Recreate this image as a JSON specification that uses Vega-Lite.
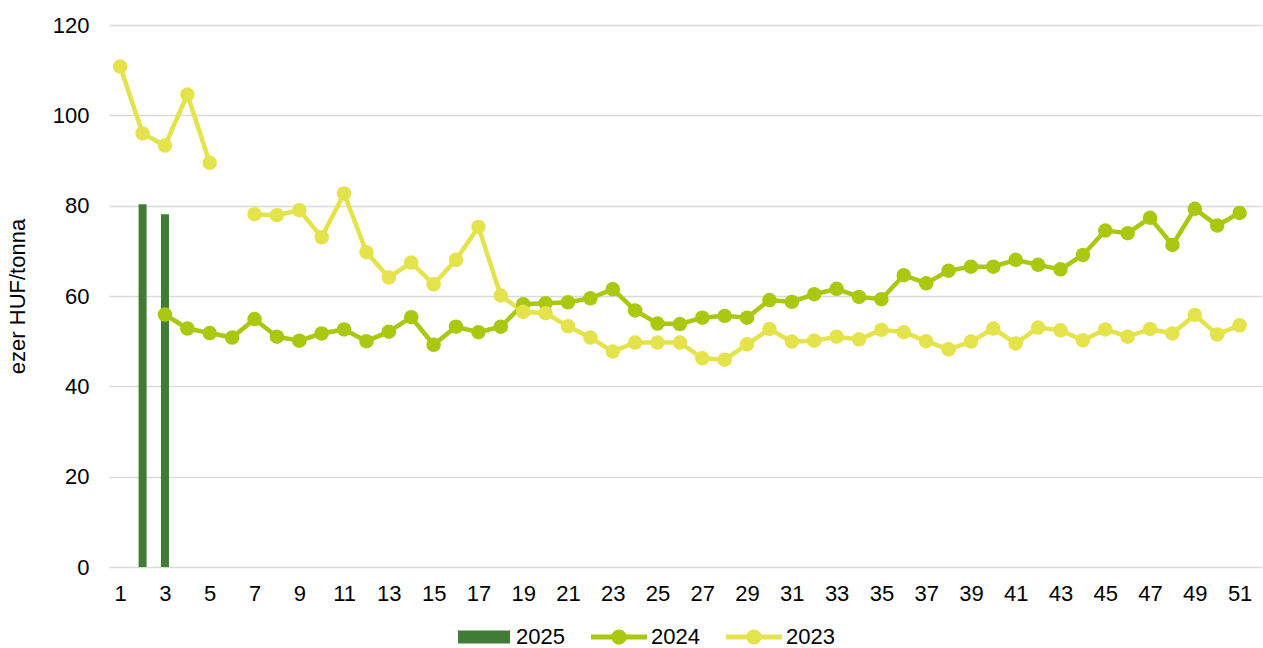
{
  "$schema": "https://vega.github.io/schema/vega-lite/v6.json",
  "width": 1153,
  "height": 542,
  "autosize": {"type": "none"},
  "padding": {"left": 109, "top": 25, "right": 1, "bottom": 81},
  "background": "white",
  "config": {
    "view": {"stroke": null},
    "font": "Liberation Sans",
    "axis": {"labelFont": "Liberation Sans", "titleFont": "Liberation Sans", "labelColor": "#000000", "titleColor": "#000000"},
    "legend": {"labelFont": "Liberation Sans"}
  },
  "data": {
    "values": [
      {"week": 2, "series": "2025", "value": 80.3},
      {"week": 3, "series": "2025", "value": 78.1},
      {"week": 3, "series": "2024", "value": 55.9},
      {"week": 4, "series": "2024", "value": 52.8},
      {"week": 5, "series": "2024", "value": 51.8},
      {"week": 6, "series": "2024", "value": 50.8},
      {"week": 7, "series": "2024", "value": 54.9},
      {"week": 8, "series": "2024", "value": 51.0},
      {"week": 9, "series": "2024", "value": 50.1},
      {"week": 10, "series": "2024", "value": 51.7},
      {"week": 11, "series": "2024", "value": 52.6},
      {"week": 12, "series": "2024", "value": 50.0},
      {"week": 13, "series": "2024", "value": 52.1},
      {"week": 14, "series": "2024", "value": 55.3},
      {"week": 15, "series": "2024", "value": 49.2},
      {"week": 16, "series": "2024", "value": 53.2},
      {"week": 17, "series": "2024", "value": 52.0},
      {"week": 18, "series": "2024", "value": 53.2},
      {"week": 19, "series": "2024", "value": 58.2},
      {"week": 20, "series": "2024", "value": 58.4},
      {"week": 21, "series": "2024", "value": 58.6},
      {"week": 22, "series": "2024", "value": 59.5},
      {"week": 23, "series": "2024", "value": 61.5},
      {"week": 24, "series": "2024", "value": 56.8},
      {"week": 25, "series": "2024", "value": 53.9},
      {"week": 26, "series": "2024", "value": 53.8},
      {"week": 27, "series": "2024", "value": 55.2},
      {"week": 28, "series": "2024", "value": 55.6},
      {"week": 29, "series": "2024", "value": 55.2},
      {"week": 30, "series": "2024", "value": 59.1},
      {"week": 31, "series": "2024", "value": 58.7},
      {"week": 32, "series": "2024", "value": 60.4},
      {"week": 33, "series": "2024", "value": 61.6},
      {"week": 34, "series": "2024", "value": 59.8},
      {"week": 35, "series": "2024", "value": 59.3},
      {"week": 36, "series": "2024", "value": 64.6},
      {"week": 37, "series": "2024", "value": 62.8},
      {"week": 38, "series": "2024", "value": 65.6},
      {"week": 39, "series": "2024", "value": 66.5},
      {"week": 40, "series": "2024", "value": 66.5},
      {"week": 41, "series": "2024", "value": 68.0},
      {"week": 42, "series": "2024", "value": 66.9},
      {"week": 43, "series": "2024", "value": 65.9},
      {"week": 44, "series": "2024", "value": 69.1},
      {"week": 45, "series": "2024", "value": 74.5},
      {"week": 46, "series": "2024", "value": 73.9},
      {"week": 47, "series": "2024", "value": 77.3},
      {"week": 48, "series": "2024", "value": 71.3},
      {"week": 49, "series": "2024", "value": 79.3},
      {"week": 50, "series": "2024", "value": 75.6},
      {"week": 51, "series": "2024", "value": 78.4},
      {"week": 1, "series": "2023", "value": 110.8},
      {"week": 2, "series": "2023", "value": 96.0},
      {"week": 3, "series": "2023", "value": 93.3},
      {"week": 4, "series": "2023", "value": 104.6},
      {"week": 5, "series": "2023", "value": 89.5},
      {"week": 6, "series": "2023", "value": null},
      {"week": 7, "series": "2023", "value": 78.1},
      {"week": 8, "series": "2023", "value": 77.9},
      {"week": 9, "series": "2023", "value": 79.0},
      {"week": 10, "series": "2023", "value": 73.0},
      {"week": 11, "series": "2023", "value": 82.7},
      {"week": 12, "series": "2023", "value": 69.7},
      {"week": 13, "series": "2023", "value": 64.1},
      {"week": 14, "series": "2023", "value": 67.4},
      {"week": 15, "series": "2023", "value": 62.6},
      {"week": 16, "series": "2023", "value": 68.0},
      {"week": 17, "series": "2023", "value": 75.3},
      {"week": 18, "series": "2023", "value": 60.1},
      {"week": 19, "series": "2023", "value": 56.5},
      {"week": 20, "series": "2023", "value": 56.2},
      {"week": 21, "series": "2023", "value": 53.3},
      {"week": 22, "series": "2023", "value": 50.8},
      {"week": 23, "series": "2023", "value": 47.7},
      {"week": 24, "series": "2023", "value": 49.7},
      {"week": 25, "series": "2023", "value": 49.7},
      {"week": 26, "series": "2023", "value": 49.7},
      {"week": 27, "series": "2023", "value": 46.2},
      {"week": 28, "series": "2023", "value": 45.9},
      {"week": 29, "series": "2023", "value": 49.3},
      {"week": 30, "series": "2023", "value": 52.7},
      {"week": 31, "series": "2023", "value": 49.9},
      {"week": 32, "series": "2023", "value": 50.1},
      {"week": 33, "series": "2023", "value": 51.0},
      {"week": 34, "series": "2023", "value": 50.4},
      {"week": 35, "series": "2023", "value": 52.5},
      {"week": 36, "series": "2023", "value": 52.0},
      {"week": 37, "series": "2023", "value": 50.0},
      {"week": 38, "series": "2023", "value": 48.2},
      {"week": 39, "series": "2023", "value": 49.9},
      {"week": 40, "series": "2023", "value": 52.8},
      {"week": 41, "series": "2023", "value": 49.5},
      {"week": 42, "series": "2023", "value": 53.0},
      {"week": 43, "series": "2023", "value": 52.4},
      {"week": 44, "series": "2023", "value": 50.2},
      {"week": 45, "series": "2023", "value": 52.6},
      {"week": 46, "series": "2023", "value": 51.0},
      {"week": 47, "series": "2023", "value": 52.7},
      {"week": 48, "series": "2023", "value": 51.7},
      {"week": 49, "series": "2023", "value": 55.8},
      {"week": 50, "series": "2023", "value": 51.5},
      {"week": 51, "series": "2023", "value": 53.5}
    ]
  },
  "encoding": {
    "x": {
      "field": "week",
      "type": "quantitative",
      "scale": {"domain": [0.5, 52], "nice": false, "zero": false, "padding": 0},
      "axis": {
        "title": null,
        "grid": false,
        "ticks": false,
        "domain": false,
        "values": [1,3,5,7,9,11,13,15,17,19,21,23,25,27,29,31,33,35,37,39,41,43,45,47,49,51],
        "labelFontSize": 22,
        "labelPadding": 16,
        "labelBaseline": "top",
        "labelFlush": false
      }
    },
    "y": {
      "field": "value",
      "type": "quantitative",
      "scale": {"domain": [0, 120], "nice": false, "padding": 0},
      "axis": {
        "title": "ezer HUF/tonna",
        "titleFontSize": 22,
        "titleFontWeight": "normal",
        "titlePadding": 23,
        "values": [0, 20, 40, 60, 80, 100, 120],
        "grid": true,
        "gridColor": "#d9d9d9",
        "gridWidth": 1.5,
        "ticks": false,
        "domain": false,
        "labelFontSize": 22,
        "labelPadding": 20
      }
    },
    "color": {
      "field": "series",
      "type": "nominal",
      "scale": {"domain": ["2025", "2024", "2023"], "range": ["#417c37", "#aac80f", "#e5e34b"]},
      "legend": {
        "title": null,
        "orient": "none",
        "direction": "horizontal",
        "legendX": 347,
        "legendY": 584,
        "padding": 0,
        "labelFontSize": 22,
        "labelColor": "#000000",
        "labelOffset": 4,
        "columnPadding": 26,
        "symbolSize": 3136,
        "encode": {
          "symbols": {
            "update": {
              "shape": {"signal": "datum.value === '2025' ? 'M-0.93,-0.232H0.93V0.232H-0.93Z' : 'M-1,-0.09H1V0.09H-1Z M-0.27,0A0.27,0.27 0 1,1 0.27,0A0.27,0.27 0 1,1 -0.27,0Z'"},
              "fill": {"signal": "scale('color', datum.value)"},
              "stroke": {"value": "transparent"},
              "strokeWidth": {"value": 0},
              "size": {"value": 3136},
              "opacity": {"value": 1},
              "fillOpacity": {"value": 1}
            }
          }
        }
      }
    }
  },
  "layer": [
    {
      "transform": [{"filter": "datum.series === '2025'"}],
      "mark": {"type": "bar", "width": 8}
    },
    {
      "transform": [{"filter": "datum.series !== '2025'"}],
      "mark": {"type": "line", "strokeWidth": 4.5, "invalid": "break-paths-show-domains"}
    },
    {
      "transform": [{"filter": "datum.series !== '2025' && datum.value != null"}],
      "mark": {"type": "point", "filled": true, "shape": "circle", "size": 210, "opacity": 1}
    }
  ]
}
